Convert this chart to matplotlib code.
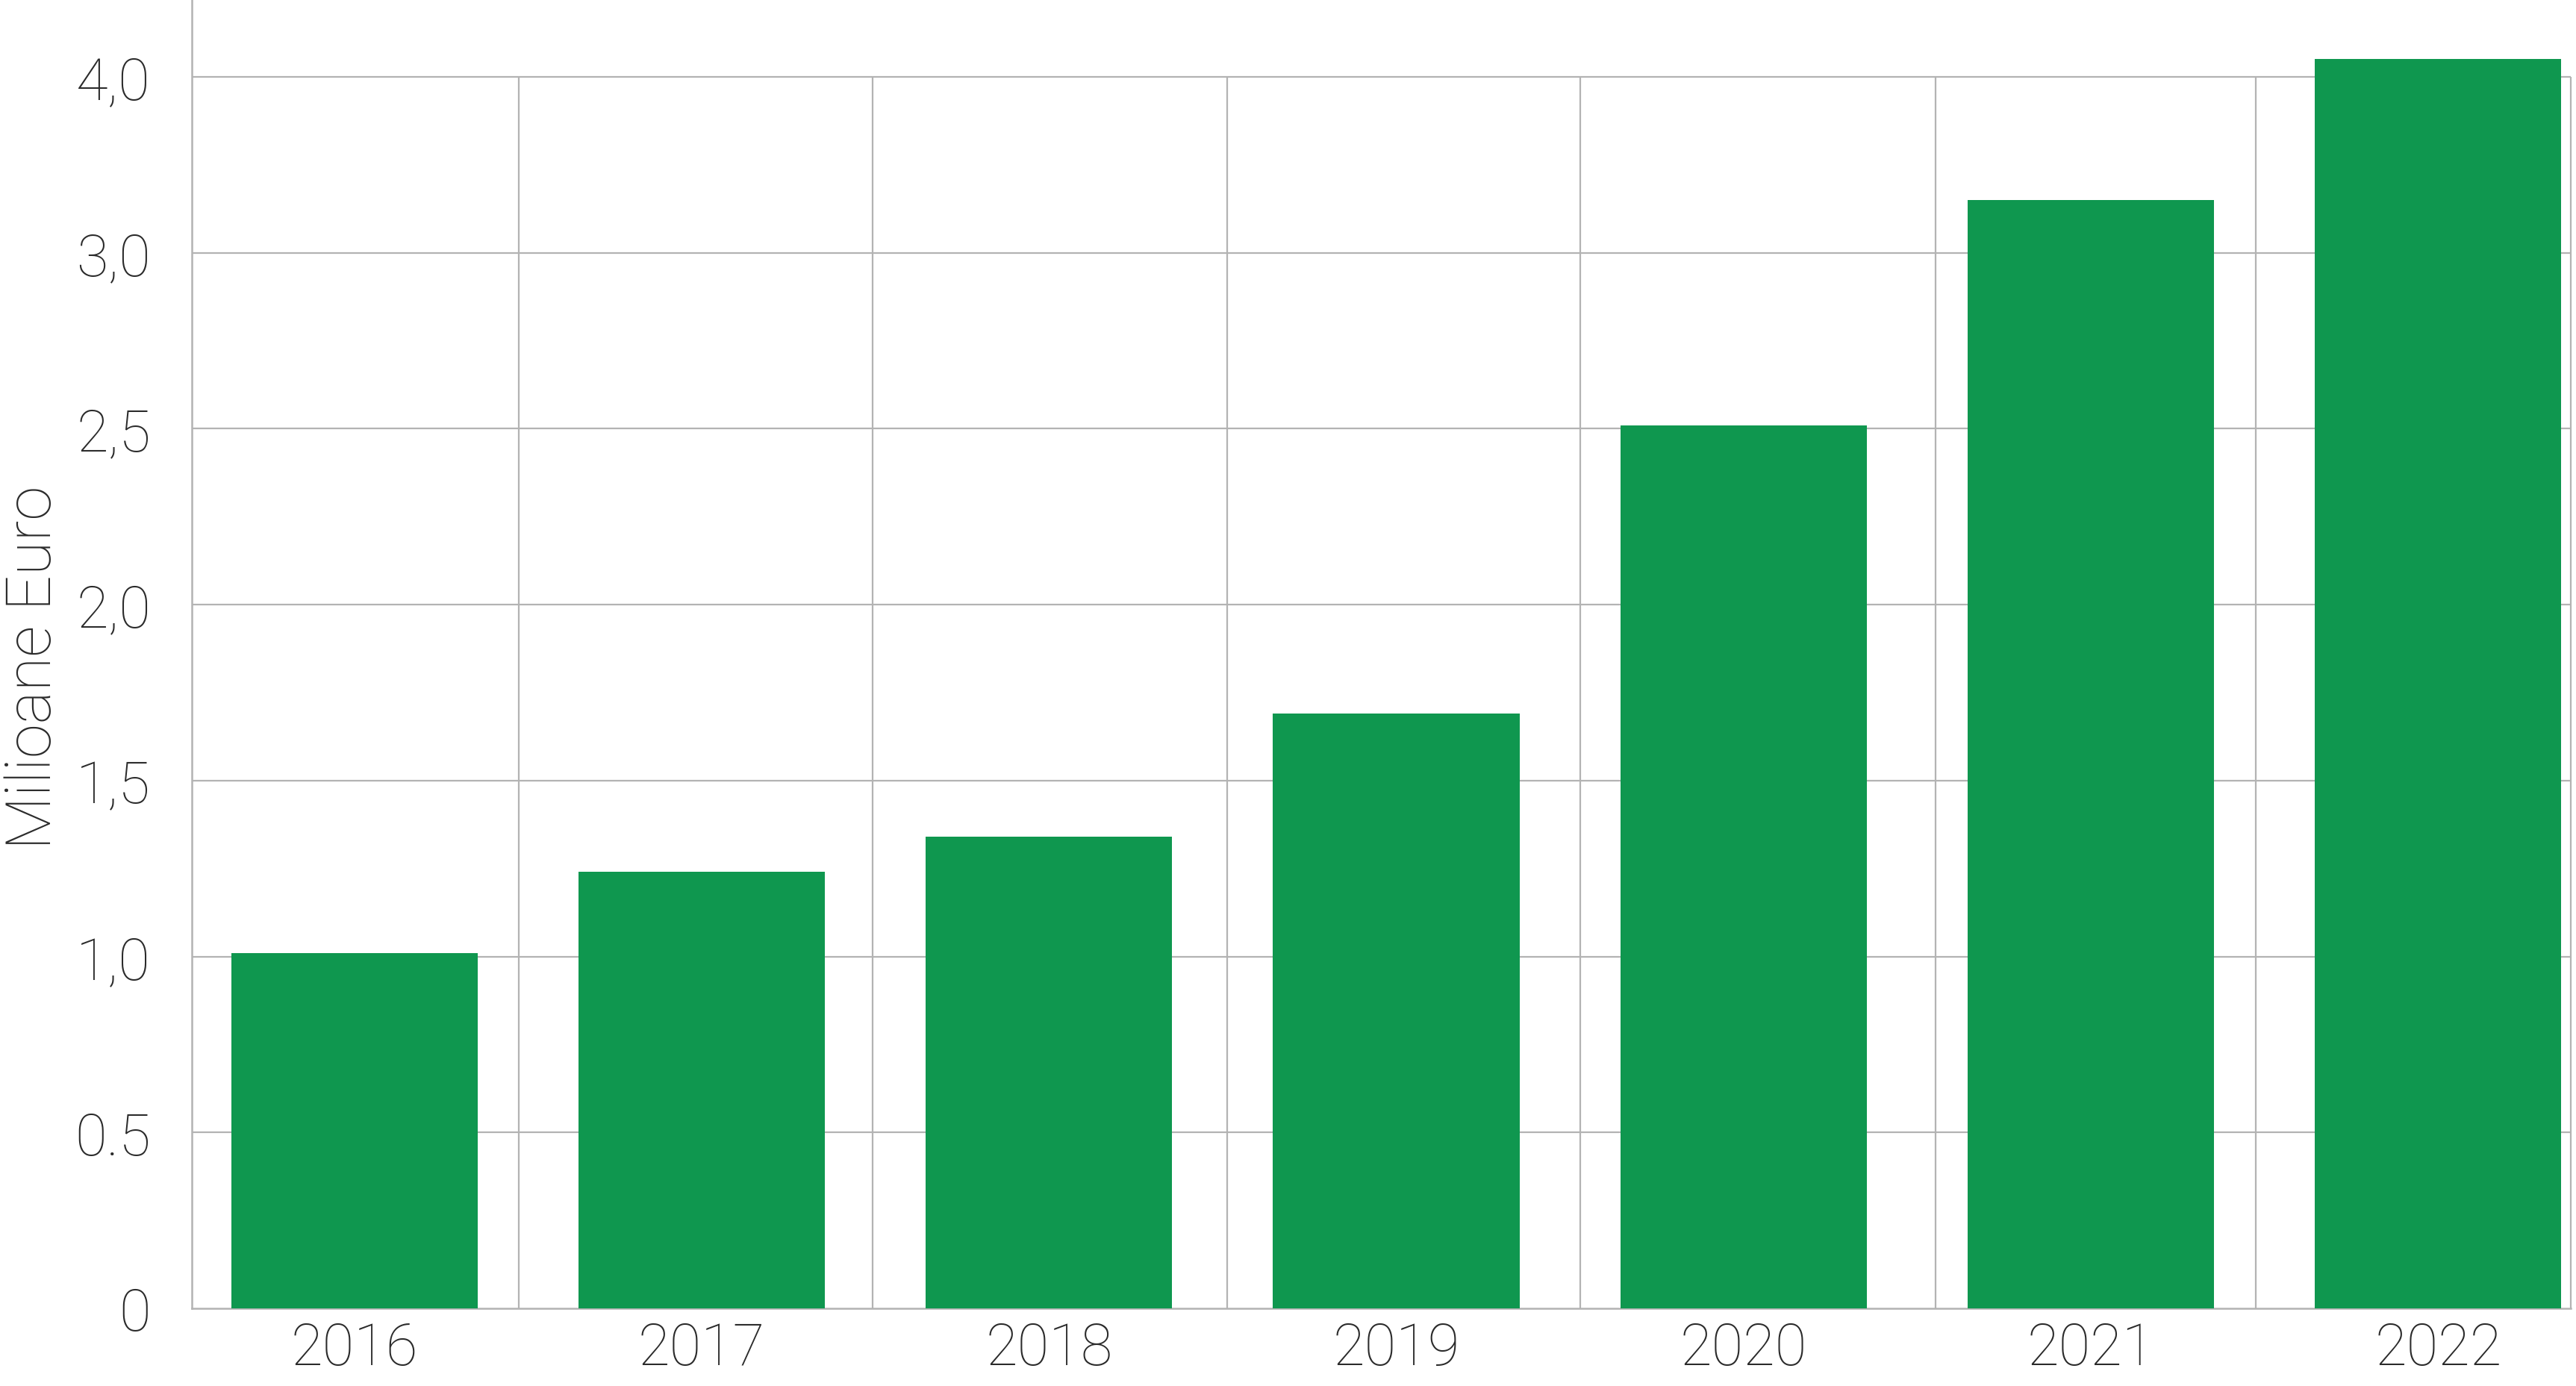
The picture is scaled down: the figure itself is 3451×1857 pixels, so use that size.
import matplotlib
matplotlib.use('Agg')
import matplotlib.pyplot as plt

# data (in axis units)
years = ['2016', '2017', '2018', '2019', '2020', '2021', '2022']
values = [1.01, 1.24, 1.34, 1.69, 2.51, 3.15, 3.55]
tick_pos = [0, 0.5, 1.0, 1.5, 2.0, 2.5, 3.0, 3.5]
tick_labels = ['0', '0.5', '1,0', '1,5', '2,0', '2,5', '3,0', '4,0']
vgrid_pos = [0.474, 1.492, 2.514, 3.530, 4.552, 5.474, 6.383]

plt.rcParams['font.family'] = ['Roboto', 'DejaVu Sans']
text_col = '#2b2b2b'
grid_col = '#b3b3b3'

fig = plt.figure(figsize=(34.51, 18.58), dpi=100)
ax = fig.add_axes([0.0746, 0.0559, 1 - 0.0746, 1 - 0.0559])

x = range(len(years))
ax.bar(x, values, width=0.71, color='#0f974f', zorder=3)

ax.set_xlim(-0.467, 6.397)
ax.set_ylim(0, 3.72)

# grid lines, only up to the top tick
for yv in tick_pos[1:]:
    ax.hlines(yv, -0.467, 6.383, color=grid_col, lw=1.6, zorder=1)
ax.vlines(vgrid_pos, 0, 3.5, color=grid_col, lw=1.6, zorder=1)

ax.set_xticks(list(x))
ax.set_xticklabels(years)
ax.set_yticks(tick_pos)
ax.set_yticklabels(tick_labels)
ax.tick_params(axis='both', length=0, labelsize=56, colors=text_col)
ax.tick_params(axis='y', pad=40)
ax.tick_params(axis='x', pad=12)
for lab in ax.get_xticklabels() + ax.get_yticklabels():
    lab.set_fontweight('light')

for s in ['top', 'right']:
    ax.spines[s].set_visible(False)
ax.spines['left'].set_color(grid_col)
ax.spines['left'].set_linewidth(1.8)
ax.spines['bottom'].set_color(grid_col)
ax.spines['bottom'].set_linewidth(1.8)
ax.spines['bottom'].set_bounds(-0.467, 6.383)

fig.text(0.0015, 0.5185, 'Milioane Euro', rotation=90, ha='left', va='center',
         fontsize=60, color=text_col, fontweight='light')

fig.savefig('out.png', dpi=100)
